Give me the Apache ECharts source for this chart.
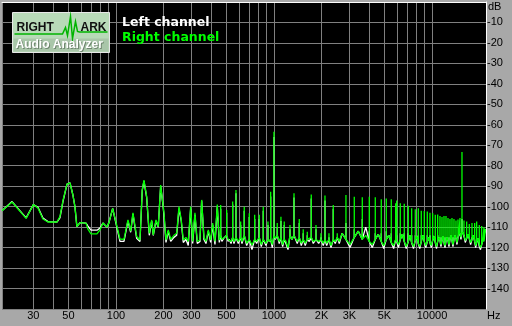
<!DOCTYPE html>
<html><head><meta charset="utf-8">
<script src="https://cdn.jsdelivr.net/npm/echarts@6/dist/echarts.min.js"></script>
<style>html,body{margin:0;padding:0;background:#a8a8a8}#c{width:512px;height:326px}</style>
</head><body><div id="c"></div>
<script>
// Frequencies (Hz) of the noise-floor trace points
const freqs = [
  19, 22, 27, 30, 32.1, 34.5, 37.1, 42.3, 44.2, 46.2, 49, 51.2, 53.4, 55, 56.6, 59.2, 64.6, 66.5, 69.5, 75.8, 79.2, 82.7, 87.7, 90.3, 95.3,
  106, 112.4, 119.1, 123.9, 128.1, 135.2, 141.9, 146.7, 150.4, 156.4, 162.5, 168.3, 172.3, 179.2, 185.2, 191.8, 197.5, 201.3, 207.3, 214.3,
  222, 232.8, 242.2, 250.5, 259, 266.7, 277.3, 286.8, 297, 305.8, 316.2, 327, 340.1, 348.6, 360.6, 371.3, 384, 397.5, 409.3, 423.3, 437.7, 450.7,
  460, 468, 480, 501.9, 512, 521.3, 535, 547.8, 558.3, 574.8, 594.4, 615.5, 627.4, 648.6, 671.8, 697.7, 725.7, 754.8, 777.1, 807.2,
  831, 855.6, 890, 916.2, 935, 953, 975.5, 1000, 1019, 1049, 1080, 1107, 1135, 1162, 1191, 1227, 1263, 1300, 1339, 1364,
  1404, 1446, 1489, 1532, 1578, 1625, 1673, 1722, 1773, 1845, 1918, 1984, 2051, 2103, 2156, 2229, 2296, 2373, 2443, 2515, 2590,
  2700, 2855, 3030, 3223, 3420, 3622, 3810, 4011, 4190, 4377, 4570, 4777, 4950, 5137, 5330, 5526, 5720, 5893, 5940, 5980,
  6140, 6301, 6490, 6679, 6870, 7080, 7260, 7437, 7640, 7841, 8010, 8192, 8370, 8557, 8750, 8940, 9140, 9340, 9520, 9712,
  9900, 10101, 10300, 10493, 10680, 10867, 11050, 11238, 11400, 11571, 11740, 11913, 12090, 12265, 12450, 12629, 12810, 13000, 13190, 13385,
  13580, 13780, 13980, 14188, 14400, 14608, 14820, 15040, 15260, 15485, 15710, 15940, 16250, 16580, 16900, 17222, 17560, 17915, 18270, 18630,
  18900, 19180, 19550, 19927, 20280, 20637, 21000, 21340, 21800
];
// Right channel level at those points (dB)
const rightChannel = [
  -102, -97.7, -105.7, -99, -100.6, -106, -107.5, -107.5, -104.9, -97, -89, -88.4, -94.3, -100, -109.8, -107.8, -108, -111, -113.3, -113.3, -111.4, -108, -110, -107.8, -100.8,
  -115.8, -116, -106.5, -112, -103, -114.6, -116.3, -91.8, -87, -95, -113, -106.5, -113.8, -106.5, -109.8, -89.4, -97.5, -103, -116.3, -111.4,
  -116, -114, -113, -100, -106.5, -116.3, -115, -117, -100, -117, -103, -117, -116.3, -96.7, -115, -117, -111.4, -116.3, -108, -117, -99, -116.3,
  -114, -116, -115.5, -114, -116, -115.5, -117, -115, -117, -115, -117, -115, -117, -114, -117.9, -116, -118.7, -116, -117, -115,
  -118.5, -116, -118, -116, -117, -116, -118.5, -114, -115.5, -114, -117, -115, -118.5, -116, -117, -120, -114, -116, -114, -113.8,
  -117, -115, -117.9, -116, -117.9, -116, -116.3, -115, -117, -116, -117, -116, -117.9, -116, -117.9, -116, -119, -116, -117, -115, -117,
  -113, -116, -118.5, -115, -112, -116, -114, -117, -118.5, -116, -113.5, -117, -119, -116, -114, -117.5, -119, -116, -114, -117,
  -118.5, -116, -113.5, -117, -119.5, -117, -114, -117.5, -119.5, -116.5, -114.5, -118, -119.5, -117, -114, -117, -119, -117, -115, -117.5,
  -119, -116.5, -114.5, -117.5, -119.5, -117, -115, -116.5, -118.5, -116.5, -114.5, -117.5, -119, -117, -115, -116.5, -118.5, -116, -114, -116.5,
  -118.5, -116, -114, -115.5, -117.5, -115, -113, -113, -115, -112, -113, -114, -116.5, -115.5, -113.5, -115.5, -117.5, -116, -114, -117,
  -119, -117.5, -115.5, -118.5, -120, -118.5, -116.5, -117, -111
];
// Left channel level at those points (dB)
const leftChannel = [
  -102, -97.5, -105.5, -99, -100.3, -105.5, -107.3, -107.5, -105.5, -97.5, -89, -88.4, -94.3, -100, -109.8, -107.8, -108, -109.5, -111.5, -111.5, -110.5, -108, -110, -107.8, -100.8,
  -117, -117, -107, -112.5, -103.5, -115.5, -117, -92, -87.5, -95.5, -114, -107, -114, -107, -110, -90, -98, -104, -117.5, -112,
  -117, -115, -114, -101, -107, -117.5, -116, -119, -101, -118, -104, -118, -117, -97, -116, -118, -112, -117.5, -109, -118.5, -100, -117.5,
  -114, -117, -115.5, -114, -117, -116, -118, -115, -118, -115, -118, -115, -118, -114, -119, -116, -121, -116, -118, -115,
  -119.5, -116, -119, -116, -117, -116, -120, -114, -116, -114, -118, -115, -119.5, -116, -118, -121, -114, -116, -114, -114,
  -118, -115, -119, -116, -119, -116, -117, -115, -118, -116, -118, -116, -119, -116, -119, -116, -120, -116, -118, -115, -118,
  -113, -116, -120, -115, -112, -116, -110, -117, -120, -116, -113.5, -117, -120.5, -116, -114, -117.5, -120.5, -116, -114, -117,
  -120, -116, -113.5, -117, -120.5, -117, -114, -117.5, -120.5, -116.5, -114.5, -118, -120.5, -117, -114, -117, -120, -117, -115, -117.5,
  -120, -116.5, -114.5, -117.5, -120.5, -117, -115, -116.5, -119.5, -116.5, -114.5, -117.5, -120, -117, -115, -116.5, -119.5, -116, -114, -116.5,
  -119.5, -116, -114, -115.5, -118.5, -115, -113, -113, -116, -112, -113, -114, -117.5, -115.5, -113.5, -115.5, -118.5, -116, -114, -117,
  -120, -117.5, -115.5, -119.5, -121, -118.5, -116.5, -117, -111
];
// Narrow harmonic spikes (Hz) and their peak levels (dB)
const spikeFreqs = [
  460, 501.9, 547.8, 574.8, 615.5, 648.6, 697.7, 754.8, 807.2, 855.6, 916.2, 953, 1000, 1049, 1107, 1162, 1263, 1339, 1446, 1532,
  1625, 1722, 1845, 1984, 2103, 2229, 2373, 2515, 2855, 3223, 3622, 4011, 4377, 4777, 5137, 5526, 5893, 5980, 6301, 6679,
  7080, 7437, 7841, 8192, 8557, 8940, 9340, 9712, 10101, 10493, 10867, 11238, 11571, 11913, 12265, 12629, 13000, 13385, 13780, 14188,
  14608, 15040, 15485, 15940, 16580, 17222, 17915, 18630, 19180, 19927, 20637, 21340
];
const rightPeaks = [
  -99.2, -101.6, -97.5, -91.8, -107.3, -100, -103.2, -104, -104, -100, -107.3, -92.7, -63.4, -108, -104.9, -107.3, -109, -93.5, -106, -111,
  -112.2, -94, -109, -113, -94.6, -113, -99.2, -113, -94.3, -95.1, -95.4, -95.1, -95.4, -96.4, -96, -96.4, -98.3, -97, -98.3, -98.6,
  -99.6, -100.8, -101.3, -100.8, -102, -102.1, -102.4, -103, -103.2, -104, -103.8, -104.6, -105, -104.6, -104.6, -105.5, -106, -105.5, -106, -106.7,
  -106.3, -105.5, -73.3, -106.7, -107.3, -108.5, -108, -108, -107.3, -108.9, -109.5, -110
];
const leftPeaks = [
  -101, -103, -99, -93.5, -109, -102, -105, -106, -106, -102, -109, -95, -66, -110, -107, -109, -111, -95.5, -108, -113,
  -114, -96, -111, -115, -97, -115, -101, -115, -108, -111, -106, -112, -113, -113, -112, -113, -113, -114, -113, -113,
  -113, -114, -114, -114, -114, -114, -114, -114, -114, -115, -114, -115, -115, -115, -115, -115, -115, -115, -115, -115,
  -115, -114, -106, -115, -115, -115, -115, -116, -116, -116, -116, -116
];
// Axis ticks / labels
const gridFreqs = [19, 30, 40, 50, 60, 70, 80, 90, 100, 200, 300, 400, 500, 600, 700, 800, 900,
  1000, 2000, 3000, 4000, 5000, 6000, 7000, 8000, 9000, 10000];
const labelFreqs = [30, 50, 100, 200, 300, 500, 1000, 2000, 3000, 5000, 10000];
const labelTexts = ['30', '50', '100', '200', '300', '500', '1000', '2K', '3K', '5K', '10000'];
const freqMin = 19, freqMax = 21970;
const dbMin = -150, dbMax = 0, dbStep = 10;
const seriesNames = ['Left channel', 'Right channel'];

const lg = Math.log10;
function buildData(floor, peaks) {
  const out = [];
  freqs.forEach((f, i) => {
    out.push([lg(f), floor[i]]);
    const s = spikeFreqs.indexOf(f);
    if (s >= 0) {
      out.push([lg(f), peaks[s]]);
      out.push([lg(f), floor[i]]);
    }
  });
  return out;
}
const chart = echarts.init(document.getElementById('c'), null, {renderer: 'canvas'});
const FONT = 'Liberation Sans, Arial, sans-serif';
chart.setOption({
  animation: false,
  backgroundColor: '#a8a8a8',
  grid: {left: 2, right: 26, top: 2, bottom: 17, show: true, backgroundColor: '#000', borderWidth: 0},
  legend: {
    orient: 'vertical', left: 117, top: 16, itemWidth: 0, itemHeight: 14, itemGap: 1, padding: 0,
    selectedMode: false, icon: 'rect', itemStyle: {opacity: 0},
    textStyle: {fontFamily: 'DejaVu Sans', fontWeight: 'bold', fontSize: 12.5},
    data: [
      {name: seriesNames[0], textStyle: {color: '#ffffff'}},
      {name: seriesNames[1], textStyle: {color: '#00ff00'}}
    ]
  },
  xAxis: {
    type: 'value', min: lg(freqMin), max: lg(freqMax),
    axisLine: {show: true, lineStyle: {color: '#ffffff', width: 1}},
    axisTick: {show: false, customValues: gridFreqs.map(lg)},
    splitLine: {show: true, lineStyle: {color: '#808080', width: 1}},
    axisLabel: {
      customValues: labelFreqs.map(lg),
      formatter: function (v) {
        const i = labelFreqs.findIndex(f => Math.abs(lg(f) - v) < 1e-6);
        return i >= 0 ? labelTexts[i] : '';
      },
      color: '#000', fontSize: 11, fontFamily: FONT, margin: 1
    }
  },
  yAxis: {
    type: 'value', position: 'right', min: dbMin, max: dbMax, interval: dbStep,
    axisLine: {show: true, lineStyle: {color: '#ffffff', width: 1}},
    axisTick: {show: false},
    splitLine: {show: true, lineStyle: {color: '#808080', width: 1}},
    axisLabel: {
      color: '#000', fontSize: 11, fontFamily: FONT, margin: 1,
      formatter: v => (v === dbMax || v === dbMin) ? '' : String(v)
    }
  },
  graphic: [
    {type: 'text', left: 488, top: 1, style: {text: 'dB', font: '11px ' + FONT, fill: '#000'}},
    {type: 'text', left: 487, top: 310, style: {text: 'Hz', font: '11px ' + FONT, fill: '#000'}},
    {type: 'group', left: 12, top: 12, z: 100, children: [
      {type: 'rect', z: 100, shape: {x: 0, y: 0, width: 97, height: 40}, style: {fill: '#b8dab8', stroke: '#e8e8e8', lineWidth: 1}},
      {type: 'rect', z: 101, shape: {x: 1, y: 26, width: 95, height: 13}, style: {fill: '#a9c6a9'}},
      {type: 'polyline', z: 102, shape: {points: [[2, 21.5], [50, 21.5], [53, 15], [55, 23], [58, 4], [60, 26], [63, 9], [65, 19], [67, 19.5], [95, 19.5]]},
        style: {stroke: '#00b400', lineWidth: 1.5, fill: null}},
      {type: 'text', z: 103, x: 4, y: 9, style: {text: 'RIGHT', font: 'bold 12px ' + FONT, fill: '#101010'}},
      {type: 'text', z: 103, x: 68, y: 9, style: {text: 'ARK', font: 'bold 12px ' + FONT, fill: '#101010'}},
      {type: 'text', z: 103, x: 4, y: 27, style: {text: 'Audio Analyzer', font: 'bold 12px ' + FONT, fill: '#6f856f'}},
      {type: 'text', z: 104, x: 3, y: 26, style: {text: 'Audio Analyzer', font: 'bold 12px ' + FONT, fill: '#ffffff'}}
    ]}
  ],
  series: [
    {name: seriesNames[0], type: 'line', showSymbol: false, symbol: 'none', z: 2,
      itemStyle: {color: '#ffffff'}, lineStyle: {color: '#ffffff', width: 1.3},
      data: buildData(leftChannel, leftPeaks)},
    {name: seriesNames[1], type: 'line', showSymbol: false, symbol: 'none', z: 3,
      itemStyle: {color: '#00ff00'}, lineStyle: {color: '#00ff00', width: 1.3},
      data: buildData(rightChannel, rightPeaks)}
  ]
});
</script></body></html>
